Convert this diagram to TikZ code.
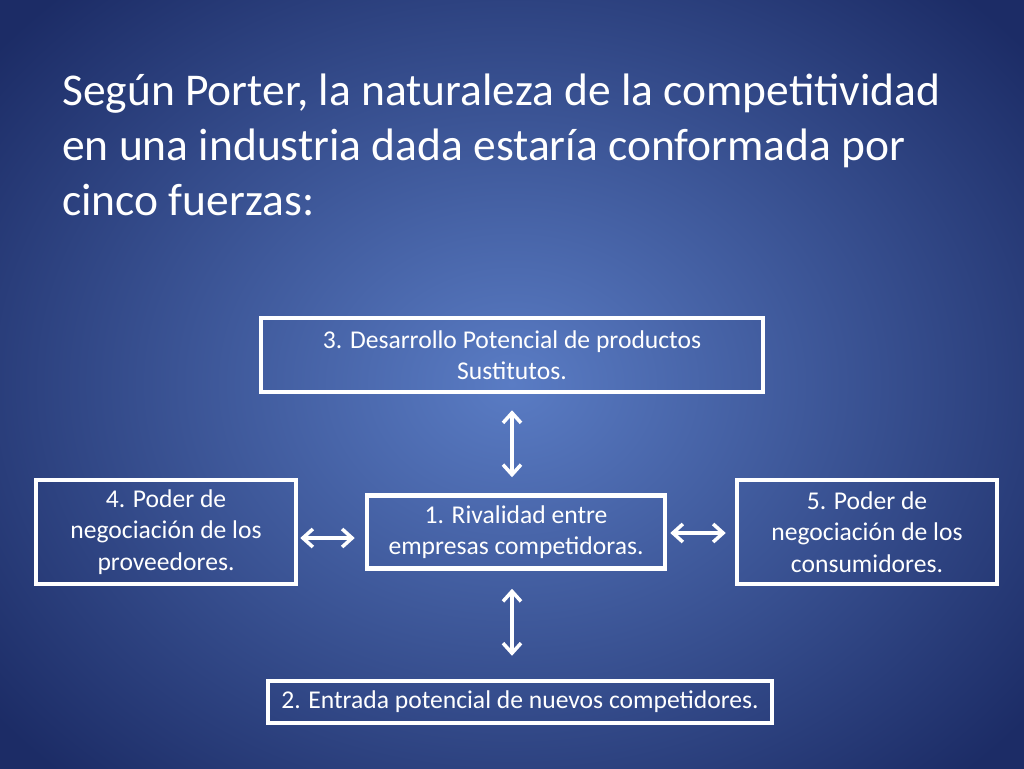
\documentclass[tikz,border=0pt]{standalone}
\usepackage{fontspec}
\setmainfont{Carlito}
\usetikzlibrary{arrows.meta}
\definecolor{bgin}{HTML}{5A7CC4}
\definecolor{bgout}{HTML}{1C2C66}
\begin{document}
\begin{tikzpicture}[x=1pt,y=-1pt,
  fbox/.style={draw=white,line width=4.5pt,text=white,align=center,font=\fontsize{25.6}{31.5}\selectfont,inner sep=0pt},
  dbl/.style={white,line width=3.5pt,{Straight Barb[length=10pt,width=18pt]}-{Straight Barb[length=10pt,width=18pt]}}]
\useasboundingbox (0,0) rectangle (1024,768);
\shade[inner color=bgin,outer color=bgout] (-150,-150) rectangle (1174,918);
\node[anchor=north west,text=white,align=left,font=\fontsize{45.5}{55}\selectfont,inner sep=0pt] (t) at (62,74)
 {Según Porter, la naturaleza de la competitividad\\en una industria dada estaría conformada por\\cinco fuerzas:};
\node[fbox,minimum width=502pt,minimum height=74pt] (b3) at (512,355) {3. Desarrollo Potencial de productos\\Sustitutos.};
\node[fbox,minimum width=260pt,minimum height=104pt] (b4) at (166,532) {4. Poder de\\negociación de los\\proveedores.};
\node[fbox,minimum width=298pt,minimum height=73pt] (b1) at (516,532) {1. Rivalidad entre\\empresas competidoras.};
\node[fbox,minimum width=260pt,minimum height=104pt] (b5) at (867,532) {5. Poder de\\negociación de los\\consumidores.};
\node[fbox,minimum width=504pt,minimum height=42pt] (b2) at (520,702) {2. Entrada potencial de nuevos competidores.};
\draw[dbl] ([yshift=-16pt]b3.south -| 512,0) -- ([yshift=16pt]b1.north -| 512,0);
\draw[dbl] ([yshift=-18pt]b1.south -| 512,0) -- ([yshift=23pt]b2.north -| 512,0);
\draw[dbl] ([xshift=2pt]b4.east |- 0,538) -- ([xshift=-10pt]b1.west |- 0,538);
\draw[dbl] ([xshift=3pt]b1.east |- 0,533) -- ([xshift=-9pt]b5.west |- 0,533);
\end{tikzpicture}
\end{document}
